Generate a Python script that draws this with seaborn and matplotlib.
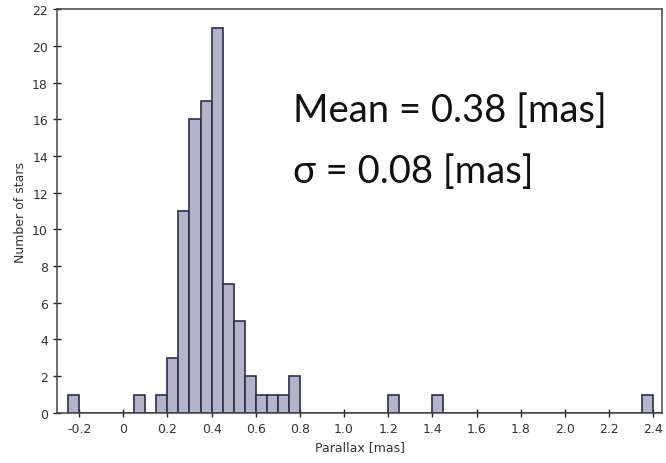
import numpy as np
import pandas as pd
import matplotlib
matplotlib.use("Agg")
import matplotlib.pyplot as plt
import seaborn as sns

# Histogram data (bin centers, counts), bin width 0.05
bin_centers = [-0.225, 0.075, 0.175, 0.225, 0.275, 0.325, 0.375, 0.425, 0.475,
               0.525, 0.575, 0.625, 0.675, 0.725, 0.775, 1.225, 1.425, 2.375]
counts = [1, 1, 1, 3, 11, 16, 17, 21, 7, 5, 2, 1, 1, 1, 2, 1, 1, 1]
x_ticks = [-0.2, 0, 0.2, 0.4, 0.6, 0.8, 1.0, 1.2, 1.4, 1.6, 1.8, 2.0, 2.2, 2.4]
x_tick_labels = ["-0.2", "0", "0.2", "0.4", "0.6", "0.8", "1.0", "1.2", "1.4",
                 "1.6", "1.8", "2.0", "2.2", "2.4"]
y_ticks = list(range(0, 23, 2))
mean_text = "Mean = 0.38 [mas]"
sigma_text = "σ = 0.08 [mas]"

sns.set_style("white")
plt.rcParams['font.family'] = ['DejaVu Sans']

fig = plt.figure(figsize=(6.66, 4.64), dpi=100)
ax = fig.add_axes([0.0856, 0.108, 0.9084, 0.870])

df = pd.DataFrame({"parallax": bin_centers, "count": counts})
edges = [round(v, 3) for v in np.arange(-0.25, 2.45 + 1e-9, 0.05)]
sns.histplot(data=df, x="parallax", weights="count", bins=edges, ax=ax,
             color="#b4b4c9", edgecolor="#2e2e4e", linewidth=1.2, alpha=1.0)

ax.set_xlim(-0.3, 2.44)
ax.set_ylim(0, 22)
ax.set_xticks(x_ticks)
ax.set_xticklabels(x_tick_labels)
ax.set_yticks(y_ticks)
ax.tick_params(direction="inout", length=6, width=1, colors="#222222",
               labelsize=9, labelcolor="#333333", left=True, bottom=True)
for s in ax.spines.values():
    s.set_color("#444444")
    s.set_linewidth(1.1)
ax.set_xlabel("Parallax [mas]", fontsize=9, color="#333333")
ax.set_ylabel("Number of stars", fontsize=9, color="#333333")

ax.text(0.39, 0.723, mean_text, transform=ax.transAxes, fontsize=27.5,
        family=["Lato", "DejaVu Sans"], color="#111111", ha="left",
        va="baseline")
ax.text(0.39, 0.572, sigma_text, transform=ax.transAxes, fontsize=27.5,
        family=["Lato", "DejaVu Sans"], color="#111111", ha="left",
        va="baseline")

fig.savefig("out.png", dpi=100)
